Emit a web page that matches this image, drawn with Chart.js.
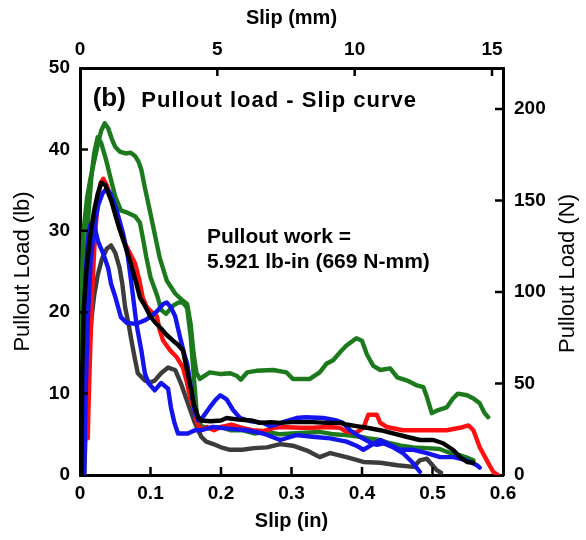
<!DOCTYPE html>
<html>
<head>
<meta charset="utf-8">
<script src="https://cdn.jsdelivr.net/npm/chart.js@4.4.1/dist/chart.umd.min.js"></script>
<style>
  html, body { margin: 0; padding: 0; background: #fff; }
  #wrap { width: 586px; height: 540px; }
</style>
</head>
<body>
<div id="wrap"><canvas id="c" width="586" height="540"></canvas></div>
<script>
// Axis tick values
const slipTicksIn = [0, 0.1, 0.2, 0.3, 0.4, 0.5, 0.6];
const slipTicksMm = [0, 5, 10, 15];
const loadTicksLb = [0, 10, 20, 30, 40, 50];
const loadTicksN  = [0, 50, 100, 150, 200];

// Secondary axis ranges (top: mm over the 0-0.6 in span, right: N over 0-50 lb)
const SLIP_TOP_MAX_MM = 15.4;
const N_PER_LB = 4.448;

// Specimen traces: [slip (in), pullout load (lb)]
const specimenBlack = [[0.002,0],[0.003,12],[0.005,20],[0.009,25],[0.014,29],[0.020,32.5],[0.025,34.5],[0.030,35.9],[0.036,35.6],[0.045,33.5],[0.055,30.5],[0.064,28.2],[0.072,26.0],[0.080,23.5],[0.085,21.8],[0.092,20.8],[0.099,19.6],[0.106,18.8],[0.115,18.0],[0.123,17.2],[0.132,16.5],[0.139,16.0],[0.146,15.3],[0.151,13.2],[0.155,11.5],[0.158,10.4],[0.161,8.8],[0.165,7.8],[0.168,7.0],[0.172,6.7],[0.185,6.6],[0.200,6.7],[0.208,7.0],[0.225,6.8],[0.243,6.7],[0.255,6.4],[0.270,6.5],[0.284,6.4],[0.300,6.5],[0.315,6.5],[0.330,6.5],[0.350,6.4],[0.369,6.4],[0.378,6.2],[0.392,6.0],[0.407,5.8],[0.426,5.5],[0.444,5.1],[0.463,4.7],[0.482,4.3],[0.501,4.3],[0.515,3.9],[0.529,3.1],[0.539,2.2],[0.549,1.6],[0.558,1.5]];

const specimenGreenA = [[0,0],[0.002,22],[0.005,30],[0.010,34],[0.015,36.5],[0.020,38.5],[0.025,40.5],[0.030,42.3],[0.035,43.2],[0.040,42.6],[0.045,41.3],[0.050,40.3],[0.057,39.7],[0.065,39.5],[0.072,39.6],[0.078,39.2],[0.083,38.5],[0.087,37.5],[0.092,35.3],[0.099,32.5],[0.106,29.6],[0.113,26.7],[0.123,23.9],[0.135,22.3],[0.146,21.4],[0.152,21.0],[0.157,18.5],[0.161,15.0],[0.165,12.6],[0.170,11.8],[0.184,12.6],[0.200,12.4],[0.213,12.5],[0.222,12.2],[0.228,11.7],[0.237,12.6],[0.250,12.8],[0.274,12.9],[0.293,12.6],[0.302,11.8],[0.310,11.8],[0.326,11.8],[0.340,12.6],[0.350,13.7],[0.359,14.1],[0.369,15.1],[0.378,15.9],[0.392,16.8],[0.400,16.5],[0.407,14.8],[0.416,13.4],[0.426,12.9],[0.440,13.1],[0.450,12.0],[0.464,11.6],[0.478,11.0],[0.487,10.8],[0.492,9.6],[0.499,7.6],[0.506,7.9],[0.520,8.3],[0.529,9.4],[0.536,10.0],[0.549,9.8],[0.558,9.4],[0.567,8.8],[0.574,7.6],[0.579,7.1]];

const specimenGreenB = [[0.003,0],[0.005,12],[0.008,24],[0.012,32],[0.016,36.5],[0.020,39.5],[0.025,41.5],[0.030,40.8],[0.037,38.7],[0.043,36.6],[0.050,34.2],[0.058,32.5],[0.068,32.2],[0.078,31.8],[0.085,31.0],[0.089,29.2],[0.094,26.8],[0.100,24.3],[0.110,21.9],[0.115,20.3],[0.122,19.8],[0.132,20.8],[0.140,21.2],[0.146,21.2],[0.152,20.5],[0.157,17.0],[0.162,11.5],[0.166,7.2],[0.172,6.0],[0.185,5.7],[0.200,5.9],[0.213,5.5],[0.230,5.5],[0.247,5.1],[0.265,5.3],[0.284,5.0],[0.300,5.1],[0.320,5.2],[0.340,5.3],[0.360,5.0],[0.378,4.9],[0.397,4.7],[0.410,4.5],[0.425,4.3],[0.440,3.9],[0.455,3.6],[0.473,3.4],[0.492,3.3],[0.510,3.2],[0.525,2.7],[0.540,2.4],[0.550,2.1],[0.558,1.8]];

const specimenRed = [[0.011,4.5],[0.012,8],[0.014,14],[0.017,22],[0.021,29],[0.025,33.5],[0.029,35.8],[0.033,36.4],[0.038,35.6],[0.045,33.8],[0.052,31.5],[0.058,29.8],[0.064,28.4],[0.071,27.2],[0.078,26.0],[0.084,24.0],[0.089,21.8],[0.095,20.6],[0.102,20.0],[0.109,19.5],[0.113,17.8],[0.118,16.5],[0.128,15.3],[0.137,14.5],[0.146,13.2],[0.151,11.6],[0.156,9.6],[0.161,8.3],[0.166,6.4],[0.172,5.5],[0.180,5.9],[0.190,5.5],[0.200,5.9],[0.215,6.2],[0.230,5.8],[0.245,5.5],[0.260,5.4],[0.275,5.8],[0.284,5.9],[0.312,5.8],[0.331,5.8],[0.350,5.9],[0.369,5.8],[0.378,5.3],[0.392,5.2],[0.402,5.8],[0.409,7.4],[0.421,7.4],[0.426,6.4],[0.435,5.9],[0.458,5.5],[0.473,5.5],[0.497,5.5],[0.520,5.5],[0.539,5.8],[0.551,6.1],[0.558,5.5],[0.567,3.4],[0.577,1.8],[0.586,0.4],[0.593,0]];

const specimenBlueA = [[0.006,0],[0.008,10],[0.011,19],[0.015,26],[0.020,30.5],[0.026,33.2],[0.032,34.6],[0.038,35.2],[0.043,34.6],[0.052,32.5],[0.061,29.7],[0.068,26.8],[0.073,23.5],[0.080,18.6],[0.087,15.3],[0.092,12.5],[0.097,11.3],[0.106,10.4],[0.115,11.3],[0.125,10.6],[0.129,8.3],[0.134,6.4],[0.139,5.1],[0.153,5.1],[0.163,5.5],[0.172,5.5],[0.189,5.9],[0.210,5.7],[0.237,5.5],[0.260,5.1],[0.284,4.3],[0.307,4.9],[0.330,4.7],[0.355,4.5],[0.378,4.1],[0.392,3.6],[0.402,3.1],[0.412,3.6],[0.426,4.3],[0.440,3.7],[0.454,3.1],[0.473,3.1],[0.492,2.7],[0.511,2.2],[0.530,2.2],[0.549,1.8],[0.563,1.2],[0.567,0.9]];

const specimenBlueB = [[0.002,0],[0.004,12],[0.006,20],[0.009,26],[0.012,29.5],[0.015,30.8],[0.019,31.0],[0.026,28.6],[0.033,27.2],[0.040,25.4],[0.044,23.5],[0.050,21.9],[0.058,19.4],[0.066,18.7],[0.075,18.6],[0.081,18.6],[0.092,19.0],[0.103,19.6],[0.110,20.2],[0.118,21.0],[0.123,21.2],[0.129,20.6],[0.135,19.5],[0.142,16.9],[0.149,14.5],[0.152,13.7],[0.158,10.4],[0.163,7.6],[0.168,6.7],[0.175,7.2],[0.184,8.3],[0.192,9.2],[0.199,9.8],[0.208,9.3],[0.217,8.0],[0.227,7.0],[0.243,6.6],[0.260,6.4],[0.270,6.0],[0.288,6.5],[0.307,7.0],[0.320,7.1],[0.345,7.0],[0.364,6.7],[0.373,6.4],[0.383,5.5],[0.397,4.7],[0.412,4.0],[0.421,3.7],[0.430,3.9],[0.444,3.4],[0.458,2.7],[0.472,1.5],[0.482,0.4]];

const specimenGray = [[0.006,0],[0.009,8],[0.012,14],[0.016,19],[0.020,22],[0.025,24.5],[0.031,26.5],[0.038,27.8],[0.044,28.2],[0.050,27.3],[0.056,25.5],[0.060,23.5],[0.064,20.6],[0.069,18.5],[0.073,16.5],[0.078,14.2],[0.082,12.5],[0.092,11.6],[0.100,11.4],[0.106,11.6],[0.115,12.5],[0.125,13.2],[0.135,12.9],[0.143,11.3],[0.153,8.8],[0.163,6.4],[0.172,4.7],[0.179,4.1],[0.189,3.8],[0.200,3.4],[0.213,3.1],[0.230,3.1],[0.247,3.3],[0.265,3.4],[0.284,3.8],[0.302,3.6],[0.322,3.0],[0.340,2.2],[0.355,2.7],[0.378,2.2],[0.402,1.6],[0.426,1.5],[0.450,1.2],[0.473,1.0],[0.482,1.8],[0.492,2.0],[0.500,1.2],[0.506,0.6],[0.512,0.3]];

// Draw order: first entry ends up on top
const traces = [
  { pts: specimenBlack,  color: '#000000' },
  { pts: specimenBlueA,  color: '#1414ee' },
  { pts: specimenBlueB,  color: '#1414ee' },
  { pts: specimenRed,    color: '#ff1010' },
  { pts: specimenGreenB, color: '#1c7a1c' },
  { pts: specimenGreenA, color: '#1c7a1c' },
  { pts: specimenGray,   color: '#3c3c3c' }
];

const FONT = '"Liberation Sans", Arial, Helvetica, sans-serif';
const tickFont = { family: FONT, size: 19, weight: 'bold' };

function fixedTicks(values) {
  return scale => { scale.ticks = values.map(v => ({ value: v })); };
}

const frame = { display: true, color: '#000', width: 3 };
const noGrid = { display: false, drawTicks: false };

// Short tick marks pointing into the plot area
const innerTicks = {
  id: 'innerTicks',
  afterDatasetsDraw(chart) {
    const { ctx, chartArea: a, scales } = chart;
    const len = 8;
    ctx.save();
    ctx.strokeStyle = '#000';
    ctx.lineWidth = 2.5;
    ctx.beginPath();
    const horiz = (scale, edge, dir) => scale.ticks.forEach(t => {
      const p = scale.getPixelForValue(t.value);
      if (p <= a.left + 2 || p >= a.right - 2) return;
      ctx.moveTo(p, edge); ctx.lineTo(p, edge + dir * len);
    });
    const vert = (scale, edge, dir) => scale.ticks.forEach(t => {
      const p = scale.getPixelForValue(t.value);
      if (p <= a.top + 2 || p >= a.bottom - 2) return;
      ctx.moveTo(edge, p); ctx.lineTo(edge + dir * len, p);
    });
    horiz(scales.x, a.bottom, -1);
    horiz(scales.xTop, a.top, 1);
    vert(scales.y, a.left, 1);
    vert(scales.yRight, a.right, -1);
    ctx.stroke();
    ctx.restore();
  }
};

// Panel caption, work annotation and the right-hand axis title (reading upward)
const panelText = {
  id: 'panelText',
  afterDraw(chart) {
    const { ctx, chartArea: a, scales: { x, y } } = chart;
    ctx.save();
    ctx.fillStyle = '#000';
    ctx.textBaseline = 'middle';
    ctx.textAlign = 'left';
    ctx.font = 'bold 26px ' + FONT;
    ctx.fillText('(b)', x.getPixelForValue(0.018), y.getPixelForValue(46.2));
    ctx.font = 'bold 22px ' + FONT;
    ctx.letterSpacing = '1px';
    ctx.fillText('Pullout load - Slip curve', x.getPixelForValue(0.087), y.getPixelForValue(46.0));
    ctx.letterSpacing = '0px';
    ctx.font = 'bold 21px ' + FONT;
    ctx.fillText('Pullout work =', x.getPixelForValue(0.180), y.getPixelForValue(29.2));
    ctx.fillText('5.921 lb-in (669 N-mm)', x.getPixelForValue(0.180), y.getPixelForValue(26.1));

    ctx.font = '22px ' + FONT;
    ctx.textAlign = 'center';
    ctx.translate(a.right + 65, (a.top + a.bottom) / 2 + 2);
    ctx.rotate(-Math.PI / 2);
    ctx.fillText('Pullout Load (N)', 0, 0);
    ctx.restore();
  }
};

new Chart(document.getElementById('c'), {
  type: 'line',
  data: {
    datasets: traces.map(t => ({
      data: t.pts.map(([sx, load]) => ({ x: sx, y: load })),
      borderColor: t.color,
      borderWidth: 4.4,
      borderJoinStyle: 'round',
      borderCapStyle: 'round',
      pointRadius: 0,
      tension: 0,
      fill: false,
      xAxisID: 'x',
      yAxisID: 'y'
    }))
  },
  options: {
    responsive: false,
    animation: false,
    devicePixelRatio: 1,
    layout: { padding: 0 },
    plugins: { legend: { display: false }, tooltip: { enabled: false } },
    scales: {
      x: {
        type: 'linear', position: 'bottom',
        min: 0, max: 0.6,
        afterBuildTicks: fixedTicks(slipTicksIn),
        afterFit: s => { s.height = 65; },
        grid: noGrid, border: frame,
        ticks: { font: tickFont, color: '#000', padding: 7, maxRotation: 0, autoSkip: false },
        title: { display: true, text: 'Slip (in)', color: '#000', font: { family: FONT, size: 20, weight: 'bold' }, padding: { top: 0, bottom: 7 } }
      },
      xTop: {
        type: 'linear', position: 'top',
        min: 0, max: SLIP_TOP_MAX_MM,
        afterBuildTicks: fixedTicks(slipTicksMm),
        afterFit: s => { s.height = 68; },
        grid: noGrid, border: frame,
        ticks: { font: tickFont, color: '#000', padding: 7, maxRotation: 0, autoSkip: false },
        title: { display: true, text: 'Slip (mm)', color: '#000', font: { family: FONT, size: 20, weight: 'bold' }, padding: { top: 6, bottom: 0 } }
      },
      y: {
        type: 'linear', position: 'left',
        min: 0, max: 50,
        afterBuildTicks: fixedTicks(loadTicksLb),
        afterFit: s => { s.width = 80; },
        grid: noGrid, border: frame,
        ticks: { font: tickFont, color: '#000', padding: 10, autoSkip: false },
        title: { display: true, text: 'Pullout Load (lb)', color: '#000', font: { family: FONT, size: 22, weight: 'normal' }, padding: { top: 10, bottom: 0 } }
      },
      yRight: {
        type: 'linear', position: 'right',
        min: 0, max: 50 * N_PER_LB,
        afterBuildTicks: fixedTicks(loadTicksN),
        afterFit: s => { s.width = 83; },
        grid: noGrid, border: frame,
        ticks: { font: tickFont, color: '#000', padding: 11, autoSkip: false },
        title: { display: false }
      }
    }
  },
  plugins: [innerTicks, panelText]
});
</script>
</body>
</html>
